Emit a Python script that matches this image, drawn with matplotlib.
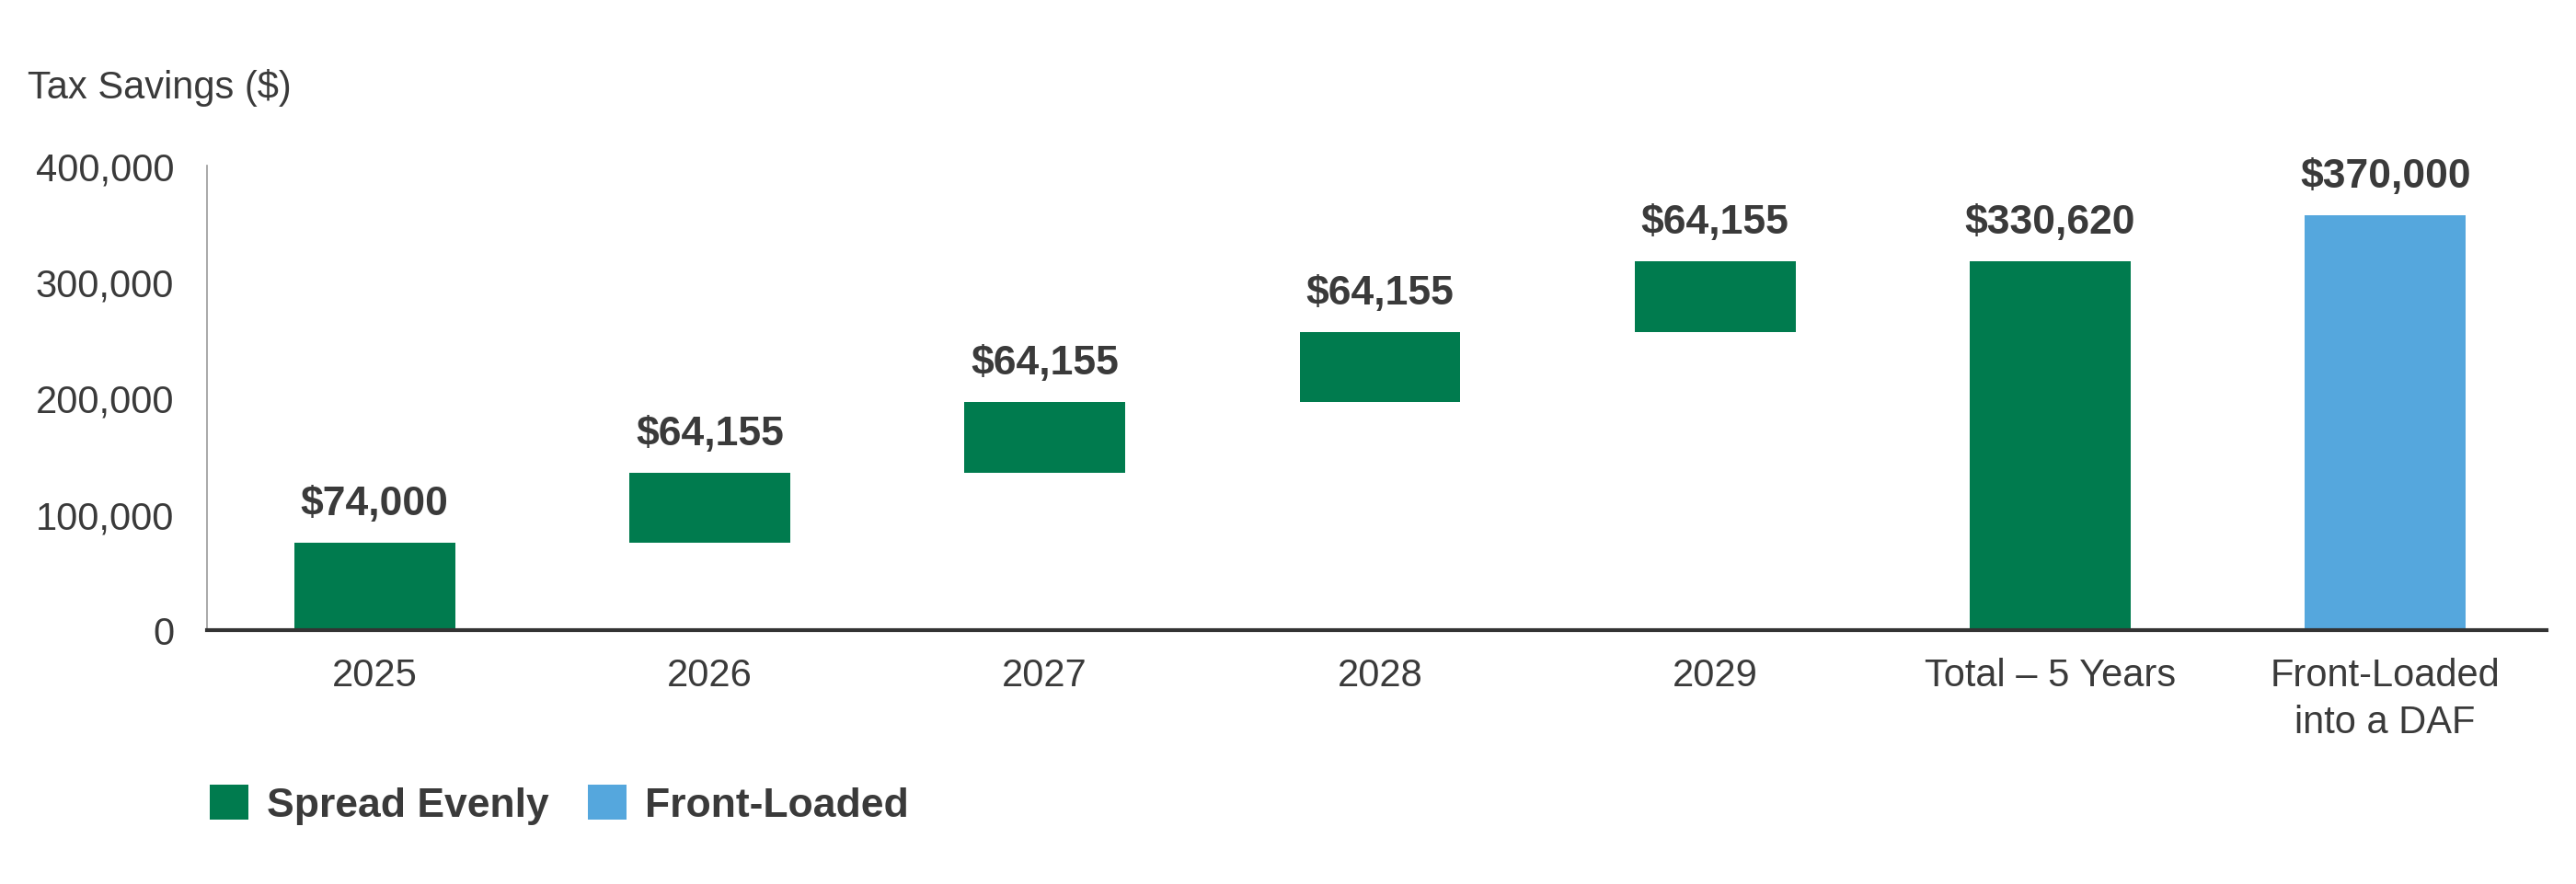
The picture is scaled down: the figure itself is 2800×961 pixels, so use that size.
import matplotlib.pyplot as plt
from matplotlib.patches import Patch
from matplotlib.ticker import FuncFormatter

plt.rcParams['font.family'] = ['Liberation Sans', 'DejaVu Sans']

# Data
categories = ["2025", "2026", "2027", "2028", "2029", "Total \u2013 5 Years", "Front-Loaded\ninto a DAF"]
bar_bottoms = [0, 74800, 135500, 196000, 256500, 0, 0]
bar_tops = [74800, 135500, 196000, 256500, 317500, 317500, 357000]
value_labels = ["$74,000", "$64,155", "$64,155", "$64,155", "$64,155", "$330,620", "$370,000"]
series = ["Spread Evenly"] * 6 + ["Front-Loaded"]

green = "#007B4E"
blue = "#55A7DD"
text_col = "#3A3A3A"
colors = {"Spread Evenly": green, "Front-Loaded": blue}

fig = plt.figure(figsize=(14, 4.81), dpi=200)
ax = fig.add_axes([0.0804, 0.287, 0.908, 0.525])

x = list(range(len(categories)))
heights = [t - b for t, b in zip(bar_tops, bar_bottoms)]
ax.bar(x, heights, bottom=bar_bottoms, width=0.48,
       color=[colors[s] for s in series], zorder=2)

for xi, top, lab in zip(x, bar_tops, value_labels):
    ax.annotate(lab, (xi, top), xytext=(0, 8), textcoords="offset points",
                ha="center", va="bottom", fontsize=16, fontweight="bold",
                color=text_col)

ax.set_xlim(-0.5, len(categories) - 0.52)
ax.set_ylim(0, 400000)
ax.set_yticks([0, 100000, 200000, 300000, 400000])
ax.yaxis.set_major_formatter(FuncFormatter(lambda v, p: f"{int(v):,}"))
ax.set_xticks(x)
ax.set_xticklabels(categories, linespacing=1.35)

ax.tick_params(axis="y", length=0, pad=13, labelsize=15, labelcolor=text_col)
ax.tick_params(axis="x", length=0, pad=10.5, labelsize=15, labelcolor=text_col)

for s in ["top", "right"]:
    ax.spines[s].set_visible(False)
ax.spines["left"].set_color("#9A9A9A")
ax.spines["left"].set_linewidth(0.6)
ax.spines["bottom"].set_color("#333333")
ax.spines["bottom"].set_linewidth(1.5)
ax.spines["bottom"].set_zorder(3)

fig.text(30 / 2800, 1 - 96 / 962, "Tax Savings ($)", ha="left", va="center",
         fontsize=15, color=text_col)

handles = [Patch(facecolor=green, label="Spread Evenly"),
           Patch(facecolor=blue, label="Front-Loaded")]
leg = fig.legend(handles=handles, loc="center left", bbox_to_anchor=(0.067, 0.09),
                 ncol=2, frameon=False, handlelength=0.95, handleheight=0.95,
                 handletextpad=0.45, columnspacing=0.95,
                 prop={"size": 16, "weight": "bold"})
for t in leg.get_texts():
    t.set_color(text_col)

fig.savefig("out.png", dpi=200, facecolor="white")
